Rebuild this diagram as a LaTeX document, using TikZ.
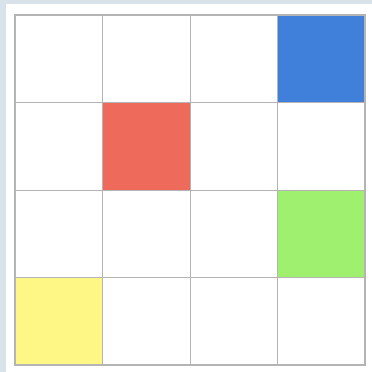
\documentclass[tikz,border=0pt]{standalone}
\definecolor{bgc}{HTML}{D8E3E9}
\definecolor{gridc}{HTML}{B4B4B4}
\definecolor{cblue}{HTML}{4080DA}
\definecolor{cred}{HTML}{EE6A5B}
\definecolor{cgreen}{HTML}{A0F06F}
\definecolor{cyellow}{HTML}{FFF785}
\begin{document}
\begin{tikzpicture}[x=1pt,y=-1pt,
  cell/.style={draw=gridc,line width=0.9pt}]
\useasboundingbox (0,0) rectangle (372,372);
\fill[bgc] (0,0) rectangle (372,372);
\fill[white] (6,4) rectangle (372,372);
% colored cells
\fill[cblue] (277.5,15) rectangle (365,102.5);
\fill[cred] (102.5,102.5) rectangle (190,190);
\fill[cgreen] (277.5,190) rectangle (365,277.5);
\fill[cyellow] (15,277.5) rectangle (102.5,365);
% grid
\foreach \i in {0,...,4} {
  \draw[cell] (15+87.5*\i,15) -- (15+87.5*\i,365);
  \draw[cell] (15,15+87.5*\i) -- (365,15+87.5*\i);
}
\draw[draw=gridc,line width=1.2pt] (15,15) rectangle (365,365);
\end{tikzpicture}
\end{document}
